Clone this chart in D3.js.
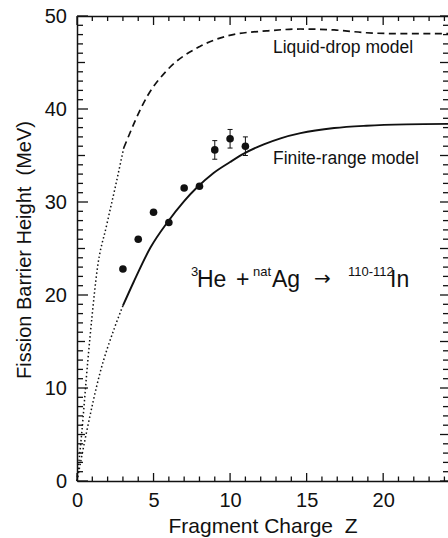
<!DOCTYPE html>
<html>
<head>
<meta charset="utf-8">
<script src="https://cdn.jsdelivr.net/npm/d3@7"></script>
<style>
  body { margin: 0; background: #fff; }
  text { font-family: "Liberation Sans", Arial, sans-serif; fill: #111; }
  .axis .domain { stroke: #111; stroke-width: 1.5; }
</style>
</head>
<body>
<script>
// measured points (fragment charge Z, barrier in MeV)
const zData = [3, 4, 5, 6, 7, 8, 9, 10, 11];
const barrier = [22.8, 26.0, 28.9, 27.8, 31.5, 31.7, 35.6, 36.8, 36.0];
const barrierErr = [0, 0, 0, 0, 0, 0, 1.0, 1.0, 1.0];

// finite-range model, solid part and dotted extrapolation
const finiteZ = [3.0, 3.7, 4.8, 5.9, 7.0, 7.8, 8.9, 10.0, 10.9, 12.2, 13.3, 14.6, 16.8, 18.9, 21.5, 24.3];
const finiteB = [18.85, 21.4, 25.1, 27.8, 30.1, 31.5, 33.1, 34.3, 35.2, 36.2, 36.85, 37.4, 37.95, 38.2, 38.35, 38.4];
const finiteDotZ = [0, 0.63, 1.5, 2.48, 3.0];
const finiteDotB = [0, 5.3, 11.6, 16.6, 18.85];

// liquid-drop model, dashed part and dotted extrapolation
const liquidZ = [3.05, 4.6, 5.9, 8.0, 10.2, 12.4, 14.6, 16.8, 18.9, 21.1, 24.3];
const liquidB = [35.8, 41.4, 44.2, 46.7, 48.0, 48.4, 48.6, 48.5, 48.2, 48.1, 48.1];
const liquidDotZ = [0, 0.3, 0.7, 1.0, 1.3, 1.95, 2.5, 3.05];
const liquidDotB = [0, 5, 12.8, 18.0, 22.5, 27.6, 31.6, 35.8];

const xLabels = [0, 5, 10, 15, 20];
const yLabels = [0, 10, 20, 30, 40, 50];
const xMinor = d3.range(0, 25);
const yMinor = d3.range(0, 51);

const width = 448, height = 538;

const svg = d3.select("body").append("svg")
    .attr("width", width)
    .attr("height", height);

const x = d3.scaleLinear().domain([0, 24.3]).range([77, 449]);
const y = d3.scaleLinear().domain([0, 50]).range([481, 16]);

// ---- axes: lines + labels from d3.axis, inward ticks drawn by hand ----
svg.append("g").attr("class", "axis")
    .attr("transform", "translate(0,481)")
    .call(d3.axisBottom(x).tickValues(xLabels).tickSize(0).tickSizeOuter(0).tickPadding(12))
    .selectAll("text").attr("font-size", 20);

svg.append("g").attr("class", "axis")
    .attr("transform", "translate(0,16)")
    .call(d3.axisTop(x).tickValues([]).tickSizeOuter(0));

svg.append("g").attr("class", "axis")
    .attr("transform", "translate(77,0)")
    .call(d3.axisLeft(y).tickValues(yLabels).tickSize(0).tickSizeOuter(0).tickPadding(10))
    .selectAll("text").attr("font-size", 20);

const ticks = svg.append("g").attr("stroke", "#111").attr("stroke-width", 1.3);

ticks.selectAll(".xb").data(xMinor).join("line").attr("class", "xb")
    .attr("x1", d => x(d)).attr("x2", d => x(d))
    .attr("y1", y(0)).attr("y2", d => y(0) - (d % 5 === 0 ? 8 : 4.5));

ticks.selectAll(".xt").data(xMinor).join("line").attr("class", "xt")
    .attr("x1", d => x(d)).attr("x2", d => x(d))
    .attr("y1", y(50)).attr("y2", d => y(50) + (d % 5 === 0 ? 9 : 5));

ticks.selectAll(".yl").data(yMinor).join("line").attr("class", "yl")
    .attr("y1", d => y(d)).attr("y2", d => y(d))
    .attr("x1", x(0)).attr("x2", d => x(0) + (d % 10 === 0 ? 11 : (d % 5 === 0 ? 8 : 6)));

ticks.selectAll(".yr").data(yMinor).join("line").attr("class", "yr")
    .attr("y1", d => y(d)).attr("y2", d => y(d))
    .attr("x1", 448).attr("x2", d => 448 - (d % 5 === 0 ? 8 : 5));

// ---- model curves ----
const line = d3.line()
    .x(d => x(d[0]))
    .y(d => y(d[1]))
    .curve(d3.curveMonotoneX);

const pairs = (a, b) => a.map((v, i) => [v, b[i]]);

svg.append("path")
    .attr("d", line(pairs(liquidDotZ, liquidDotB)))
    .attr("fill", "none").attr("stroke", "#111")
    .attr("stroke-width", 1.5).attr("stroke-dasharray", "1.5,2.5");

svg.append("path")
    .attr("d", line(pairs(liquidZ, liquidB)))
    .attr("fill", "none").attr("stroke", "#111")
    .attr("stroke-width", 1.7).attr("stroke-dasharray", "7,4.5");

svg.append("path")
    .attr("d", line(pairs(finiteDotZ, finiteDotB)))
    .attr("fill", "none").attr("stroke", "#111")
    .attr("stroke-width", 1.5).attr("stroke-dasharray", "1.5,2.5");

svg.append("path")
    .attr("d", line(pairs(finiteZ, finiteB)))
    .attr("fill", "none").attr("stroke", "#111")
    .attr("stroke-width", 1.9);

// ---- data points with error bars ----
const pts = zData.map((z, i) => ({z: z, b: barrier[i], e: barrierErr[i]}));

const err = svg.append("g").attr("stroke", "#111").attr("stroke-width", 1)
  .selectAll("g")
  .data(pts.filter(d => d.e > 0))
  .join("g");
err.append("line")
    .attr("x1", d => x(d.z)).attr("x2", d => x(d.z))
    .attr("y1", d => y(d.b - d.e)).attr("y2", d => y(d.b + d.e));
err.append("line")
    .attr("x1", d => x(d.z) - 2.5).attr("x2", d => x(d.z) + 2.5)
    .attr("y1", d => y(d.b + d.e)).attr("y2", d => y(d.b + d.e));
err.append("line")
    .attr("x1", d => x(d.z) - 2.5).attr("x2", d => x(d.z) + 2.5)
    .attr("y1", d => y(d.b - d.e)).attr("y2", d => y(d.b - d.e));

svg.append("g")
  .selectAll("circle")
  .data(pts)
  .join("circle")
    .attr("cx", d => x(d.z))
    .attr("cy", d => y(d.b))
    .attr("r", 3.8)
    .attr("fill", "#111");

// ---- labels ----
svg.append("text")
    .attr("x", 273).attr("y", 53)
    .attr("font-size", 17.5)
    .text("Liquid-drop model");

svg.append("text")
    .attr("x", 273).attr("y", 164)
    .attr("font-size", 17.5)
    .text("Finite-range model");

const rx = svg.append("text").attr("y", 287).attr("font-size", 23);
rx.append("tspan").attr("x", 191).attr("dy", -11).attr("font-size", 13).text("3");
rx.append("tspan").attr("x", 197).attr("dy", 11).text("He");
rx.append("tspan").attr("x", 236).text("+");
rx.append("tspan").attr("x", 253).attr("dy", -11).attr("font-size", 13).text("nat");
rx.append("tspan").attr("x", 272).attr("dy", 11).text("Ag");
rx.append("tspan").attr("x", 314).attr("dy", -2).attr("font-size", 20)
    .style("font-family", "'DejaVu Sans', sans-serif").text("\u2192");
rx.append("tspan").attr("x", 348).attr("dy", -9).attr("font-size", 13).text("110-112");
rx.append("tspan").attr("x", 390).attr("dy", 11).text("In");

svg.append("text")
    .attr("x", 263).attr("y", 533)
    .attr("text-anchor", "middle")
    .attr("font-size", 21)
    .style("white-space", "pre")
    .text("Fragment Charge  Z");

svg.append("text")
    .attr("transform", "translate(31,250) rotate(-90)")
    .attr("text-anchor", "middle")
    .attr("font-size", 20)
    .style("white-space", "pre")
    .text("Fission Barrier Height  (MeV)");
</script>
</body>
</html>
